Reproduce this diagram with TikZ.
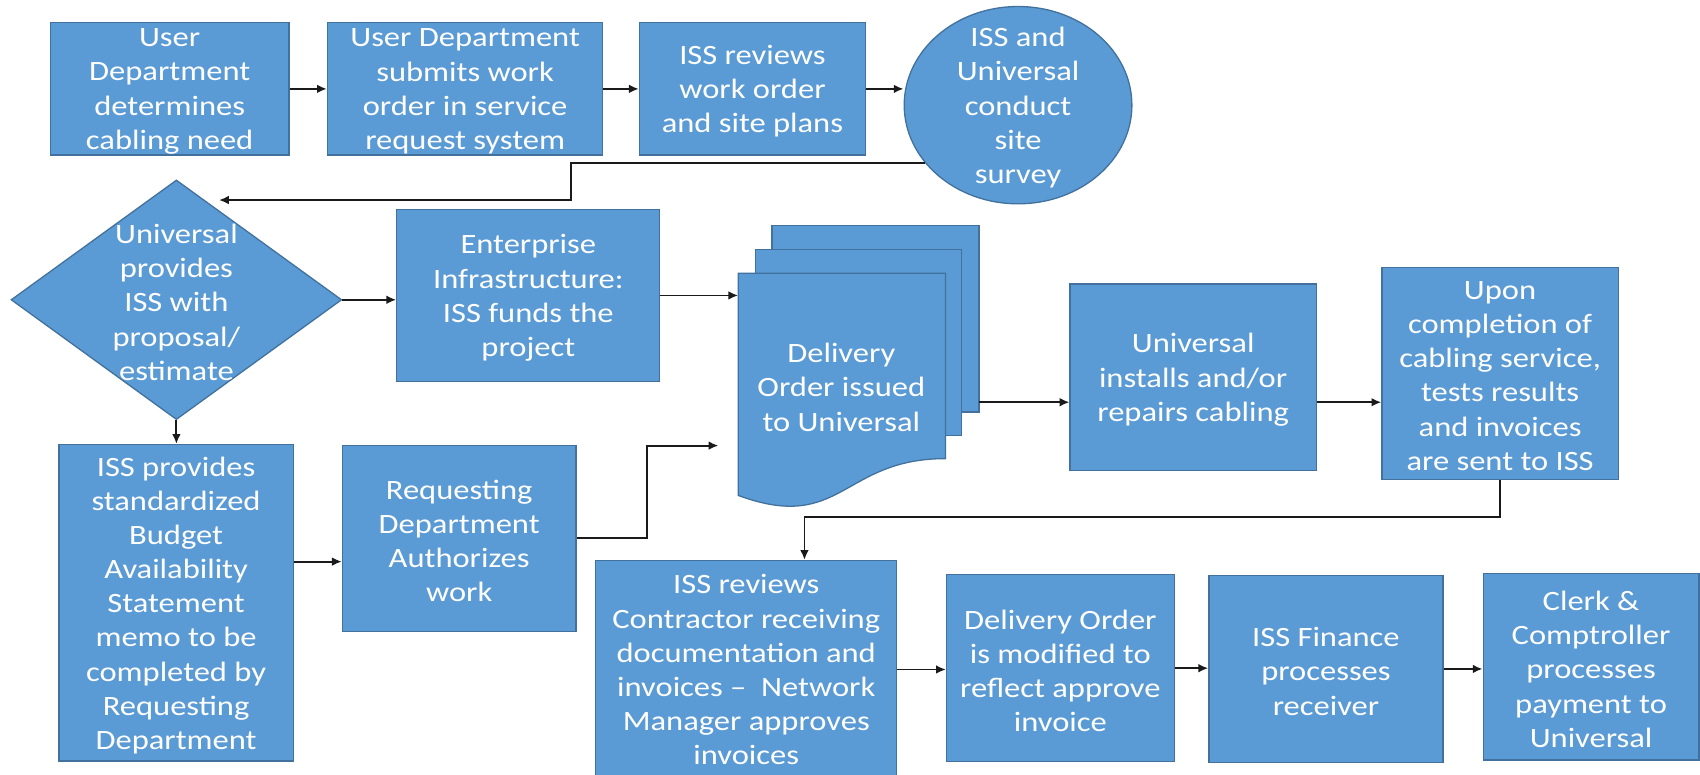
\documentclass[tikz,border=0pt]{standalone}
\usepackage{fontspec}
\setmainfont{Carlito}[FakeStretch=1.163]
\usetikzlibrary{shapes.geometric,arrows.meta}
\definecolor{boxfill}{HTML}{5B9BD5}
\definecolor{boxline}{HTML}{41719C}
\definecolor{arrowcol}{HTML}{1A1A1A}
\begin{document}
\begin{tikzpicture}[x=1pt,y=-1pt,
  box/.style={draw=boxline, fill=boxfill, line width=1.2pt, inner sep=0pt},
  txt/.style={inner sep=0pt, text=white, align=center,
    font=\fontsize{25.8}{31.5}\selectfont, yshift=-2.3pt},
  arr/.style={draw=arrowcol, line width=1.7pt, -{Latex[length=9pt,width=8pt]}}]
\useasboundingbox (0,0) rectangle (1568,714);
\fill[white] (0,0) rectangle (1568,714);

% row 1
\node[box, minimum width=220, minimum height=122] (b1) at (156.5,82) {};
\node[txt] (b1t) at (b1.center) {User\\Department\\determines\\cabling need};
\node[box, minimum width=254, minimum height=122] (b2) at (429,82) {};
\node[txt] (b2t) at (b2.center) {User Department\\submits work\\order in service\\request system};
\node[box, minimum width=208.5, minimum height=122] (b3) at (694,82) {};
\node[txt] (b3t) at (b3.center) {ISS reviews\\work order\\and site plans};
\node[ellipse, box, minimum width=210, minimum height=182] (c) at (939,97) {};
\node[txt] (ct) at (c.center) {ISS and\\Universal\\conduct\\site\\survey};

% row 2
\node[diamond, box, minimum width=305, minimum height=221] (d) at (162.7,276.5) {};
\node[txt] (dt) at (d.center) {Universal\\provides\\ISS with\\proposal/\\estimate};
\node[box, minimum width=242.6, minimum height=159] (b5) at (487.3,272.5) {};
\node[txt] (b5t) at (b5.center) {Enterprise\\Infrastructure:\\ISS funds the\\project};

\filldraw[draw=boxline, fill=boxfill, line width=1.2pt] (712,208) rectangle (903,380);
\filldraw[draw=boxline, fill=boxfill, line width=1.2pt] (697,230) rectangle (887,402);
\filldraw[draw=boxline, fill=boxfill, line width=1.2pt] (681,252) -- (872,252) -- (872,423)
  .. controls (776.5,423) and (776.5,492) .. (681,457) -- cycle;
\node[inner sep=0pt, minimum width=191, minimum height=205] (docf) at (776.5,354.5) {};
\node[txt] (doct) at (776,355) {Delivery\\Order issued\\to Universal};

\node[box, minimum width=227, minimum height=172] (b7) at (1100.5,348) {};
\node[txt] (b7t) at (b7.center) {Universal\\installs and/or\\repairs cabling};
\node[box, minimum width=218, minimum height=195] (b8) at (1383.6,344.5) {};
\node[txt] (b8t) at (b8.center) {Upon\\completion of\\cabling service,\\tests results\\and invoices\\are sent to ISS};

% row 3
\node[box, minimum width=216, minimum height=292] (b9) at (162.4,556) {};
\node[txt] (b9t) at (b9.center) {ISS provides\\standardized\\Budget\\Availability\\Statement\\memo to be\\completed by\\Requesting\\Department};
\node[box, minimum width=215.4, minimum height=172] (b11) at (423.5,496.6) {};
\node[txt] (b11t) at (b11.center) {Requesting\\Department\\Authorizes\\work};
\node[box, minimum width=277.5, minimum height=201] (b10) at (688.3,617.5) {};
\node[txt] (b10t) at ([yshift=2pt]b10.center) {ISS reviews\\Contractor receiving\\documentation and\\invoices --\ \ Network\\Manager approves\\invoices};
\node[box, minimum width=210, minimum height=172.6] (b12) at (978,616.3) {};
\node[txt] (b12t) at (b12.center) {Delivery Order\\is modified to\\reflect approve\\invoice};
\node[box, minimum width=216, minimum height=173] (b13) at (1223,617) {};
\node[txt] (b13t) at (b13.center) {ISS Finance\\processes\\receiver};
\node[box, minimum width=199, minimum height=172] (b14) at (1467.5,615) {};
\node[txt] (b14t) at (b14.center) {Clerk \&\\Comptroller\\processes\\payment to\\Universal};

% connectors
\draw[arr] (b1.east) -- (b2.west);
\draw[arr] (b2.east) -- (b3.west);
\draw[arr] (b3.east) -- (b3.east -| c.west);

\coordinate (j1) at (527,184.5);
\coordinate (dtip) at (202,184.5);
\draw[arr] (c.212) -| (j1) -- (dtip);

\draw[arr] (d.east) -- (d.east -| b5.west);
\draw[arr] (b5.east) -- (b5.east -| docf.west);

\coordinate (dback) at (903,371);
\draw[arr] (dback) -- (dback -| b7.west);
\draw[arr] (dback -| b7.east) -- (dback -| b8.west);

\coordinate (j3) at (742,476.6);
\draw[arr] (b8.south) |- (j3) -- (j3 |- b10.north);

\draw[arr] (d.south) -- (d.south |- b9.north);

\coordinate (j4) at (271,518);
\draw[arr] (j4 -| b9.east) -- (j4 -| b11.west);

\coordinate (j5) at (597,411);
\coordinate (dtip2) at (662.6,411);
\draw[arr] (b11.east) -| (j5) -- (dtip2);

\draw[arr] (b10.east) -- (b10.east -| b12.west);
\draw[arr] (b12.east) -- (b12.east -| b13.west);
\draw[arr] (b13.east) -- (b13.east -| b14.west);
\end{tikzpicture}
\end{document}
